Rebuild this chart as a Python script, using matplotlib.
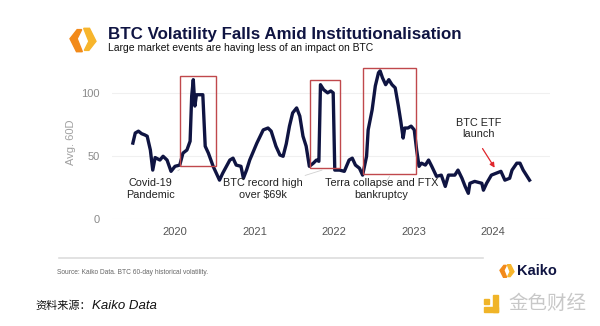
import matplotlib.pyplot as plt
from matplotlib.patches import Rectangle, Polygon

plt.rcParams['font.family'] = ['Liberation Sans', 'DejaVu Sans']

# BTC 60-day historical volatility, decimal years
years = [2019.47, 2019.50, 2019.54, 2019.58, 2019.62, 2019.65, 2019.69, 2019.72, 2019.75, 2019.81,
         2019.85, 2019.90, 2019.95, 2020.00, 2020.06, 2020.10, 2020.15, 2020.19, 2020.21, 2020.23,
         2020.25, 2020.27, 2020.35, 2020.38, 2020.42, 2020.48, 2020.56, 2020.60, 2020.69, 2020.73,
         2020.77, 2020.83, 2020.86, 2020.90, 2020.94, 2021.03, 2021.11, 2021.17, 2021.21, 2021.27,
         2021.32, 2021.36, 2021.40, 2021.44, 2021.48, 2021.53, 2021.57, 2021.61, 2021.65, 2021.69,
         2021.74, 2021.78, 2021.81, 2021.83, 2021.87, 2021.92, 2021.96, 2021.99, 2022.01, 2022.07,
         2022.13, 2022.19, 2022.23, 2022.27, 2022.32, 2022.36, 2022.41, 2022.43, 2022.48, 2022.52,
         2022.56, 2022.58, 2022.61, 2022.65, 2022.69, 2022.73, 2022.77, 2022.81, 2022.84, 2022.87,
         2022.89, 2022.93, 2022.97, 2023.01, 2023.04, 2023.07, 2023.10, 2023.15, 2023.19, 2023.23,
         2023.29, 2023.35, 2023.40, 2023.44, 2023.52, 2023.56, 2023.61, 2023.65, 2023.69, 2023.71,
         2023.77, 2023.86, 2023.88, 2023.92, 2023.98, 2024.04, 2024.10, 2024.15, 2024.21, 2024.24,
         2024.30, 2024.34, 2024.38, 2024.42, 2024.46]
vol = [60.5, 68.5, 70, 68, 67, 66, 55, 39, 49, 47,
       50, 47, 38, 42, 43, 52.5, 55, 62, 98, 111,
       90, 99, 99, 58, 52.5, 42, 31, 36.5, 47, 48.5,
       43, 42, 32.5, 39, 47, 60.5, 71, 72.5, 70, 58,
       51, 50, 60, 74, 84.5, 88.5, 82, 66, 58, 42,
       44.5, 47, 46, 107, 103, 100.5, 102, 100.5, 39, 39,
       38, 47, 48.5, 43, 40.5, 35, 50, 71, 87, 106,
       116.5, 118, 112.5, 107, 111, 107, 104.5, 90, 78, 64.5,
       72.5, 72.5, 74, 71, 55, 42, 44.5, 43, 47, 42,
       34, 35, 26, 35, 35, 39, 32.5, 26, 20.5, 28.5,
       30, 28.5, 23, 28.5, 35, 36.5, 38, 31, 32.5, 39,
       44.5, 44.5, 39, 35, 31]

# event boxes: (x0, x1, y0, y1)
boxes = [(2020.06, 2020.51, 42.5, 114), (2021.70, 2022.08, 40.5, 110.5), (2022.36, 2023.03, 36, 120)]

navy = '#0f1442'
boxred = '#c0484c'
gray = '#8a8a8a'

fig = plt.figure(figsize=(6, 3.26), dpi=100)
ax = fig.add_axes([0.187, 0.328, 0.73, 0.47])

ax.plot(years, vol, color=navy, lw=2.4, solid_joinstyle='round', zorder=3)
for x0, x1, y0, y1 in boxes:
    ax.add_patch(Rectangle((x0, y0), x1 - x0, y1 - y0, fill=False, ec=boxred, lw=1.0, zorder=4))

ax.set_xlim(2019.21, 2024.72)
ax.set_ylim(0, 122)
ax.set_xticks([2020, 2021, 2022, 2023, 2024])
ax.set_xticklabels(['2020', '2021', '2022', '2023', '2024'])
ax.set_yticks([0, 50, 100])
ax.tick_params(length=0, labelsize=8, labelcolor='#555555', pad=6)
ax.tick_params(axis='y', labelcolor=gray, pad=9)
ax.grid(axis='y', color='#f0f0f0', lw=0.8)
for s in ax.spines.values():
    s.set_visible(False)
ax.set_ylabel('Avg. 60D', color='#a0a0a0', fontsize=8, labelpad=4)

# annotations
ax.annotate('Covid-19\nPandemic', xy=(2020.06, 39.5), xytext=(2019.69, 24),
            ha='center', va='center', fontsize=7.8, color='#222222', linespacing=1.2,
            arrowprops=dict(arrowstyle='-', color='#d0d0d0', lw=0.6, shrinkA=6, shrinkB=0))
ax.annotate('BTC record high\nover $69k', xy=(2021.85, 39), xytext=(2021.10, 24),
            ha='center', va='center', fontsize=7.8, color='#222222', linespacing=1.2,
            arrowprops=dict(arrowstyle='-', color='#d0d0d0', lw=0.6, shrinkA=40, shrinkB=0))
ax.annotate('Terra collapse and FTX\nbankruptcy', xy=(2022.70, 34), xytext=(2022.60, 24),
            ha='center', va='center', fontsize=7.8, color='#222222', linespacing=1.2,
            arrowprops=dict(arrowstyle='-', color='#d0d0d0', lw=0.6, shrinkA=6, shrinkB=0))
ax.text(2023.82, 72, 'BTC ETF\nlaunch', ha='center', va='center', fontsize=7.8,
        color='#222222', linespacing=1.2)
ax.annotate('', xy=(2024.04, 39), xytext=(2023.85, 58),
            arrowprops=dict(arrowstyle='-|>', color='#e0252b', lw=0.9, mutation_scale=7))

# header
fig.text(0.18, 0.895, 'BTC Volatility Falls Amid Institutionalisation', fontsize=12.2,
         fontweight='bold', color=navy, va='center')
fig.text(0.18, 0.852, 'Large market events are having less of an impact on BTC', fontsize=7.5,
         color='#111111', va='center')

def logo(cx, cy, s):
    # two orange chevrons forming the Kaiko mark
    w, h = 600, 326
    left = [(-1, 0.1), (-0.5, -0.9), (-0.05, -0.9), (-0.45, 0.1), (-0.1, 0.8), (-0.45, 0.8)]
    right = [(1, -0.1), (0.5, 0.9), (0.05, 0.9), (0.45, -0.1), (0.1, -0.8), (0.45, -0.8)]
    for pts, c in [(left, '#f28a1a'), (right, '#f7b52c')]:
        xy = [((cx + px * s) / w, 1 - (cy - py * s) / h) for px, py in pts]
        fig.add_artist(Polygon(xy, closed=True, color=c, transform=fig.transFigure))

logo(83, 40, 13)

# footer
fig.add_artist(plt.Line2D([59 / 600, 483 / 600], [1 - 258 / 326] * 2, color='#dddddd', lw=1.2))
fig.text(57 / 600, 1 - 272 / 326, 'Source: Kaiko Data. BTC 60-day historical volatility.',
         fontsize=4.8, color='#666666', va='center')
logo(507, 271, 7)
fig.text(517 / 600, 1 - 271 / 326, 'Kaiko', fontsize=10.5, fontweight='bold', color=navy, va='center')

fig.text(35 / 600, 1 - 306 / 326, '资料来源：', fontsize=8, color='#111111', va='center',
         family=['Noto Sans CJK SC', 'DejaVu Sans'])
fig.text(92 / 600, 1 - 306 / 326, 'Kaiko Data', fontsize=9.5, style='italic',
         color='#111111', va='center')
fig.add_artist(Rectangle((484 / 600, 1 - 312 / 326), 14 / 600, 5 / 326, color='#f0b428',
                         transform=fig.transFigure))
fig.add_artist(Rectangle((493 / 600, 1 - 312 / 326), 5 / 600, 17 / 326, color='#f0b428',
                         transform=fig.transFigure))
fig.add_artist(Rectangle((484 / 600, 1 - 304 / 326), 5 / 600, 5 / 326, color='#f0b428',
                         transform=fig.transFigure))
fig.text(508 / 600, 1 - 303 / 326, '金色财经', fontsize=14, color='#c8c8c8', va='center',
         family=['Noto Sans CJK SC', 'DejaVu Sans'])

fig.savefig('out.png', dpi=100)
